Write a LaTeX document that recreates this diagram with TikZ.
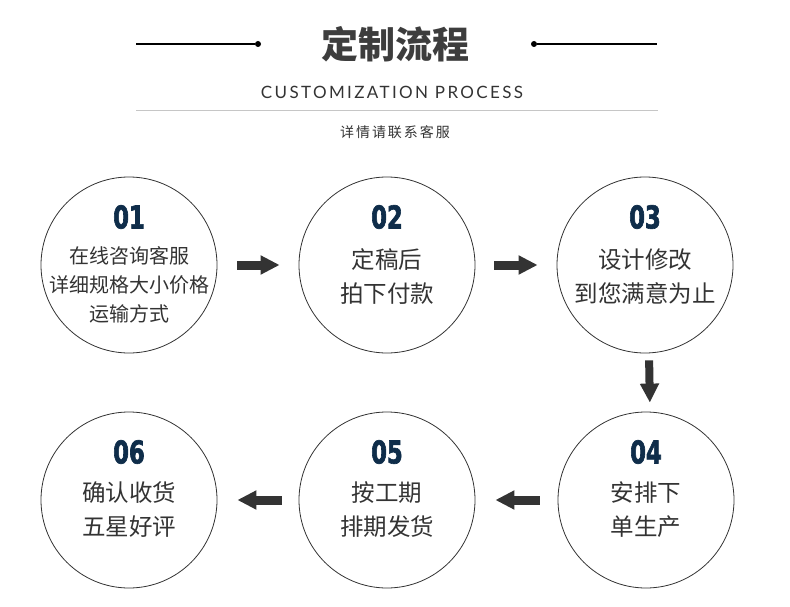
\documentclass[tikz,border=0pt]{standalone}
\usepackage{fontspec}
\setmainfont{Lato}
\newfontfamily\cjk{Noto Sans CJK SC}
\newfontfamily\cjksp{Noto Sans CJK SC}[LetterSpace=14]
\newfontfamily\numfont{DejaVu Sans Bold}[FakeStretch=0.72,FakeBold=2]
\newfontfamily\enfont{Lato}[LetterSpace=14]
\usetikzlibrary{positioning}
\usetikzlibrary{arrows.meta}
\definecolor{navy}{HTML}{0F2D4A}
\definecolor{ink}{HTML}{333333}
\definecolor{titlegray}{HTML}{3D3D3D}

\begin{document}
\begin{tikzpicture}[x=1pt,y=-1pt,
 stage/.style={circle,draw=ink,line width=0.8pt,minimum size=176pt,inner sep=0pt},
 num/.style={text=navy,inner sep=0pt,font=\numfont\fontsize{31.5}{32}\selectfont},
 txt/.style={text=ink,align=center,inner sep=0pt,font=\cjk\fontsize{23.5}{34}\selectfont},
 txtsmall/.style={text=ink,align=center,inner sep=0pt,font=\cjk\fontsize{20}{29}\selectfont},
 flow/.style={draw=ink,line width=9pt,-{Triangle[length=19pt,width=18pt]}},
 dot/.style={circle,fill=black,inner sep=0pt,minimum size=6pt}]
 \useasboundingbox (0,0) rectangle (790,607);

 \node[text=titlegray,font=\cjk\bfseries\fontsize{37}{40}\selectfont] (title) at (395,44) {定制流程};
 \node[dot] (dl) at (258,44) {};
 \node[dot] (dr) at (534,44) {};
 \coordinate (le) at (136,44);
 \coordinate (re) at (657,44);
 \draw[line width=1.2pt] (le) -- (dl);
 \draw[line width=1.2pt] (dr) -- (re);
 \node[text=ink,font=\enfont\fontsize{17}{18}\selectfont] (entitle) at (392,92) {CUSTOMIZATION PROCESS};
 \coordinate (gl) at (136,111);
 \coordinate (gr) at (658,111);
 \draw[gray!45,line width=1pt] (gl) -- (gr);
 \node[text=ink,font=\cjksp\fontsize{14}{16}\selectfont] (contact) at (395,132) {详情请联系客服};

 \node[stage] (c1) at (129,265) {};
 \node[stage] (c2) at (387,265) {};
 \node[stage] (c3) at (645,265) {};
 \node[stage] (c4) at (646,500) {};
 \node[stage] (c5) at (387,500) {};
 \node[stage] (c6) at (129,500) {};

 \node[num] (n1) at ([yshift=48pt]c1.center) {01};
 \node[num] (n2) at ([yshift=48pt]c2.center) {02};
 \node[num] (n3) at ([yshift=48pt]c3.center) {03};
 \node[num] (n4) at ([yshift=48pt]c4.center) {04};
 \node[num] (n5) at ([yshift=48pt]c5.center) {05};
 \node[num] (n6) at ([yshift=48pt]c6.center) {06};

 \node[txtsmall] (t1) at ([yshift=-20pt]c1.center) {在线咨询客服\\详细规格大小价格\\运输方式};
 \node[txt] (t2) at ([yshift=-12pt]c2.center) {定稿后\\拍下付款};
 \node[txt] (t3) at ([yshift=-12pt]c3.center) {设计修改\\到您满意为止};
 \node[txt] (t4) at ([yshift=-10pt]c4.center) {安排下\\单生产};
 \node[txt] (t5) at ([yshift=-10pt]c5.center) {按工期\\排期发货};
 \node[txt] (t6) at ([yshift=-10pt]c6.center) {确认收货\\五星好评};

 \draw[flow,shorten <=20pt,shorten >=19pt] (c1) -- (c2);
 \draw[flow,shorten <=19pt,shorten >=19pt] (c2) -- (c3);
 \draw[flow,line width=8pt,shorten <=7pt,shorten >=9pt] ([xshift=4pt]c3.south) -- ([xshift=4pt]c4.north);
 \draw[flow,shorten <=18pt,shorten >=20pt] (c4) -- (c5);
 \draw[flow,shorten <=17pt,shorten >=20pt] (c5) -- (c6);
\end{tikzpicture}
\end{document}
